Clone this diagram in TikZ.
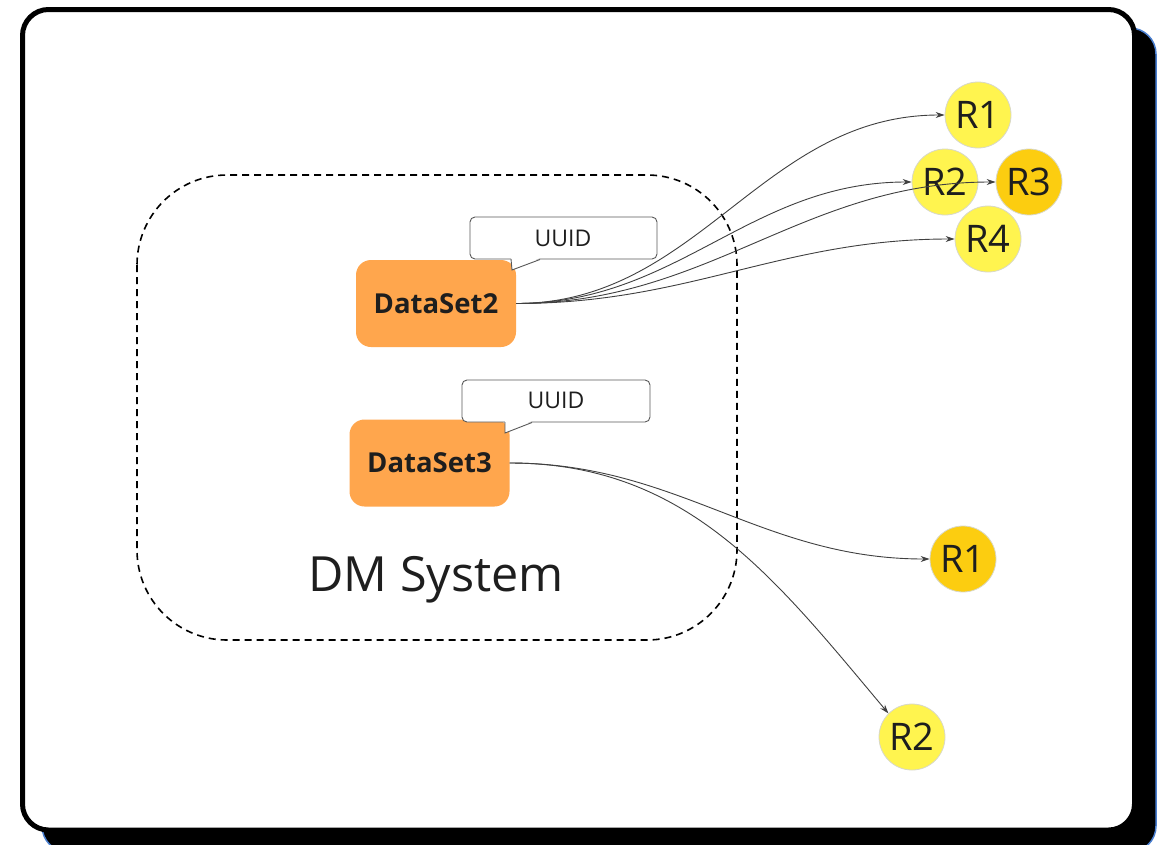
\documentclass[tikz,border=0pt]{standalone}
\usepackage{fontspec}
\setmainfont{Open Sans}
\usetikzlibrary{arrows.meta}
\definecolor{dsorange}{HTML}{FFA64D}
\definecolor{rlight}{HTML}{FFF44F}
\definecolor{rdark}{HTML}{FCCD10}
\definecolor{txt}{HTML}{1E1E1E}
\definecolor{rim}{HTML}{D8D8C8}
\definecolor{shadowblue}{HTML}{4A7FD0}
\tikzset{
  dataset/.style={draw=none, fill=dsorange, rounded corners=15pt,
    minimum width=160pt, minimum height=87pt, inner sep=0pt,
    text=txt, font=\fontsize{27.5}{30}\selectfont\bfseries},
  reader/.style={circle, draw=rim, line width=0.8pt, minimum size=66pt,
    inner sep=0pt, text=txt, font=\fontsize{38}{40}\selectfont},
  light/.style={reader, fill=rlight},
  dark/.style={reader, fill=rdark},
  tagbox/.style={draw=black!65, fill=white, line width=0.9pt, rounded corners=5pt},
  taglabel/.style={text=txt, font=\fontsize{23}{26}\selectfont, inner sep=0pt},
  edge/.style={draw=black!75, line width=0.9pt,
    -{Stealth[length=9pt,width=6pt]}},
}
\begin{document}
\begin{tikzpicture}[x=1pt,y=-1pt]
\useasboundingbox (0,0) rectangle (1164,844);
\clip (0,0) rectangle (1164,844);

% card with offset shadow
\draw[fill=black, draw=shadowblue, line width=1.5pt, rounded corners=26pt]
  (42,28) rectangle (1156,852);
\draw[fill=white, draw=black, line width=5pt, rounded corners=26pt]
  (22.5,9.5) rectangle (1134.5,830);

% system boundary
\draw[line width=1.6pt, dash pattern=on 7pt off 5pt, rounded corners=90pt]
  (137,175) rectangle (737,640);
\node[text=txt, font=\fontsize{48.5}{52}\selectfont] (dm) at (436,580) {DM System};

% data sets
\node[dataset] (ds2) at (436,303.5) {DataSet2};
\node[dataset] (ds3) at (429.5,463) {DataSet3};

% UUID tags
\draw[tagbox] (470,217) rectangle (657,259);
\fill[white] (511,258) -- (512,270) -- (540,258) -- cycle;
\draw[draw=black!65, line width=0.9pt] (511,259) -- (512,270) -- (540,259.5);
\node[taglabel] (tag2) at (563,238) {UUID};

\draw[tagbox] (462,380) rectangle (650,422);
\fill[white] (505,421) -- (505,433) -- (532,421) -- cycle;
\draw[draw=black!65, line width=0.9pt] (505,422) -- (505,433) -- (532,422.5);
\node[taglabel] (tag3) at (556,400) {UUID};

% readers
\node[light] (a1) at (978,115) {R1};
\node[light] (a2) at (945,182) {R2};
\node[dark]  (a3) at (1029,182) {R3};
\node[light] (a4) at (988,239) {R4};
\node[dark]  (b1) at (963,559) {R1};
\node[light] (b2) at (912,737) {R2};

% connections
\draw[edge] (ds2.east) to[out=0,in=180] (a1.west);
\draw[edge] (ds2.east) to[out=0,in=180] (a2.west);
\draw[edge] (ds2.east) to[out=0,in=180] (a3.west);
\draw[edge] (ds2.east) to[out=0,in=180] (a4.west);
\draw[edge] (ds3.east) to[out=0,in=180] (b1.west);
\draw[edge] (ds3.east) to[out=0,in=130] (b2.north west);
\end{tikzpicture}
\end{document}
